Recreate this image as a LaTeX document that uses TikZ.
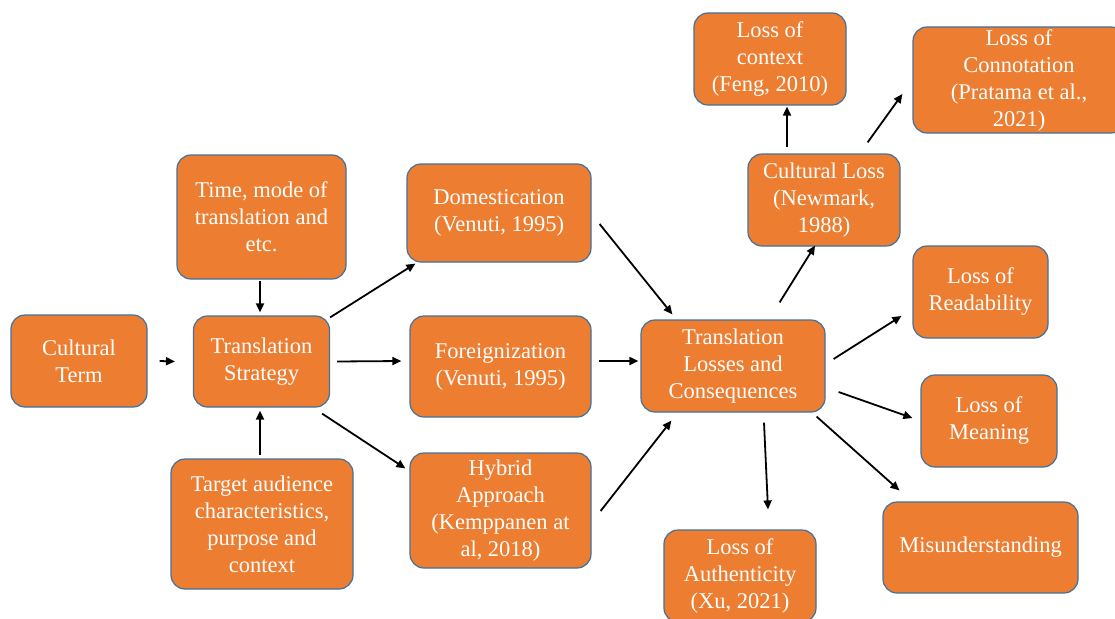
\documentclass[tikz,border=0pt]{standalone}
\usepackage{fontspec}
\setmainfont{Liberation Serif}
\usetikzlibrary{arrows.meta,calc}
\definecolor{boxfill}{HTML}{ED7D31}
\definecolor{boxline}{HTML}{41719C}
\tikzset{
  box/.style={draw=boxline, line width=1.2pt, fill=boxfill, rounded corners=14pt,
    text=white, align=center, inner sep=0pt, font=\fontsize{22.5}{27}\selectfont},
  arr/.style={line width=1.8pt, -{Triangle[length=9pt,width=8pt]}}
}
\begin{document}
\begin{tikzpicture}[x=1pt,y=-1pt]
  \clip (0,0) rectangle (1115,618);
  \fill[white] (0,0) rectangle (1115,618);
  % strategy side
  \node[box, minimum width=136, minimum height=92] (ct) at (79,361) {Cultural\\Term};
  \node[box, minimum width=136, minimum height=91] (ts) at (261.5,361.5) {Translation\\Strategy};
  \node[box, minimum width=169, minimum height=124] (tm) at (261.5,217) {Time, mode of\\translation and\\etc.};
  \node[box, minimum width=182, minimum height=130] (ta) at (262,524) {Target audience\\characteristics,\\purpose and\\context};
  \node[box, minimum width=184, minimum height=98] (dom) at (499,213) {Domestication\\(Venuti, 1995)};
  \node[box, minimum width=181, minimum height=101] (fg) at (500.5,366.5) {Foreignization\\(Venuti, 1995)};
  \node[box, minimum width=181, minimum height=115] (hy) at (500.5,510.5) {Hybrid\\Approach\\(Kemppanen at\\al, 2018)};
  % losses side
  \node[box, minimum width=184, minimum height=92] (tl) at (733,366) {Translation\\Losses and\\Consequences};
  \node[box, minimum width=152, minimum height=92] (cl) at (824,200) {Cultural Loss\\(Newmark,\\1988)};
  \node[box, minimum width=152, minimum height=92] (ctx) at (770,59) {Loss of\\context\\(Feng, 2010)};
  \node[box, minimum width=212, minimum height=106] (con) at (1019,80) {Loss of\\Connotation\\(Pratama et al.,\\2021)};
  \node[box, minimum width=135, minimum height=92] (rd) at (980.5,292) {Loss of\\Readability};
  \node[box, minimum width=136, minimum height=92] (mn) at (989,421) {Loss of\\Meaning};
  \node[box, minimum width=195, minimum height=91] (mis) at (980.5,547.5) {Misunderstanding};
  \node[box, minimum width=152, minimum height=92] (au) at (740,576) {Loss of\\Authenticity\\(Xu, 2021)};
  % arrows
  \draw[arr] ($(ct.east)+(12,0)$) -- ($(ts.west)+(-18,0)$);
  \draw[arr] ($(tm.south)+(-1.5,1)$) -- ($(ts.north)+(-1.5,-3)$);
  \draw[arr] ($(ta.north)+(-2,-3)$) -- ($(ts.south)+(-1.5,3)$);
  \draw[arr] ($(ts.north east)+(0,2)$) -- ($(dom.south west)+(9,1)$);
  \draw[arr] ($(ts.east)+(7,0)$) -- ($(fg.west)+(-8,-5.5)$);
  \draw[arr] ($(ts.south east)+(-8,6)$) -- ($(hy.north west)+(-4,16)$);
  \draw[arr] ($(dom.east)+(8,11)$) -- ($(tl.north west)+(32,-5)$);
  \draw[arr] ($(fg.east)+(7,-5.5)$) -- ($(tl.west)+(-2,-5)$);
  \draw[arr] ($(hy.east)+(9,0.5)$) -- ($(tl.south west)+(31,8)$);
  \draw[arr] ($(tl.north east)+(-46,-17)$) -- ($(cl.south)+(-9,-1)$);
  \draw[arr] ($(cl.north)+(-37,-6)$) -- ($(ctx.south)+(17,1)$);
  \draw[arr] ($(cl.north east)+(-33,-11)$) -- ($(con.west)+(-10,14)$);
  \draw[arr] ($(tl.east)+(8,-7)$) -- ($(rd.west)+(-11,24)$);
  \draw[arr] ($(tl.east)+(13,26)$) -- ($(mn.west)+(-8,-3)$);
  \draw[arr] ($(tl.south)+(31,10)$) -- ($(au.north)+(28,-20)$);
  \draw[arr] ($(tl.south east)+(-9,4)$) -- ($(mis.north west)+(17,-11)$);
\end{tikzpicture}
\end{document}
